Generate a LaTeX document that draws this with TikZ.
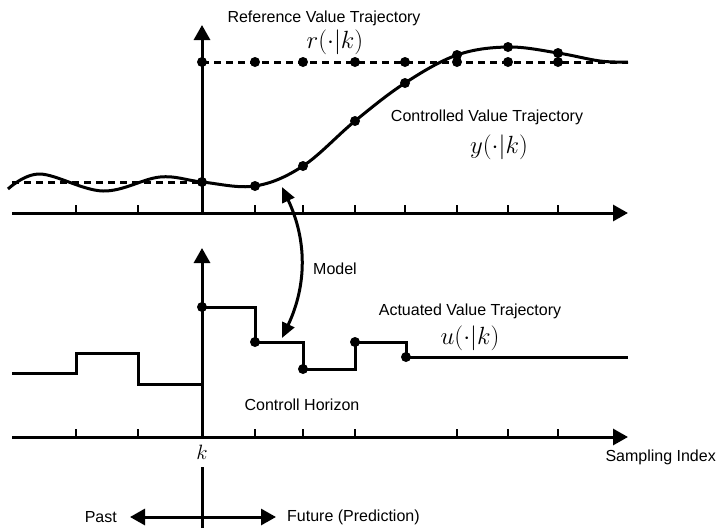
\documentclass[tikz,border=0pt]{standalone}
\usepackage{fontspec}
\setmainfont{Liberation Sans}
\usetikzlibrary{arrows.meta}
\tikzset{
    axis/.style={line width=3pt,-{Triangle[length=15pt,width=16pt]}},
    traj/.style={line width=3pt,line join=miter},
    refline/.style={line width=3pt,dash pattern=on 7pt off 5pt},
    dot/.style={circle,fill,inner sep=0pt,minimum size=10pt},
    lbl/.style={font=\fontsize{16}{19}\selectfont,inner sep=1pt},
    mlbl/.style={font=\fontsize{24}{28}\selectfont,inner sep=1pt}
}
\begin{document}
\begin{tikzpicture}[x=1pt,y=-1pt]
        \useasboundingbox (0,0) rectangle (717,528);
        %% Upper plot: axes
        \draw[axis] (12,213) -- (628,213);
        \draw[axis] (202,213) -- (202,25);
        \foreach \x in {76,138,255,303,355,405,457,508,558}
            \draw[line width=2.6pt] (\x,213) -- (\x,205);
        %% Reference
        \draw[refline] (12,182) -- (202,182);
        \draw[refline] (202,62) -- (628,62);
        \foreach \x in {202,255,303,355,405,457,508,558}
            \node[dot] at (\x,62) {};
        \node[lbl] (reftxt) at (324,18) {Reference Value Trajectory};
        \node[mlbl] (reflbl) at (335,42) {$r(\cdot|k)$};
        %% Controlled value
        \draw[traj] plot[smooth,tension=0.6] coordinates {(8,189) (40,174) (103,191) (160,177) (202,182) (255,186) (303,166) (355,121) (405,83) (457,55) (508,47) (558,53) (600,61) (628,62)};
        \foreach \p in {(202,182),(255,186),(303,166),(355,121),(405,83),(457,55),(508,47),(558,53)}
            \node[dot] at \p {};
        \node[lbl] (ytxt) at (487,117) {Controlled Value Trajectory};
        \node[mlbl] (ylbl) at (499,147) {$y(\cdot|k)$};
        %% Model
        \coordinate (mtop) at (282,187);
        \coordinate (mbot) at (282,338);
        \draw[line width=3pt,{Triangle[length=15pt,width=13pt]}-{Triangle[length=15pt,width=13pt]}] (mtop) .. controls (307,240) and (307,285) .. (mbot);
        \node[lbl] (model) at (335,269) {Model};
        %% Lower plot: axes
        \draw[axis] (12,437) -- (628,437);
        \draw[axis] (202,437) -- (202,248);
        \foreach \x in {76,138,255,303,355,457,508,558}
            \draw[line width=2.6pt] (\x,437) -- (\x,429);
        \node[mlbl,font=\fontsize{22}{26}\selectfont] (k) at (202,452) {$k$};
        \node[lbl,anchor=east] (sidx) at (717,457) {Sampling Index};
        %% Actuated value
        \draw[traj] (12,373) -| (76,353) -| (138,384) -- (202,384) -- (202,307) -| (255,342) -| (303,369) -| (355,342) -| (406,357) -- (628,357);
        \foreach \p in {(202,307),(255,342),(303,369),(355,342),(406,357)}
            \node[dot] at \p {};
        \node[lbl] (utxt) at (470,311) {Actuated Value Trajectory};
        \node[mlbl] (ulbl) at (470,338) {$u(\cdot|k)$};
        \node[lbl] (horizon) at (302,405) {Controll Horizon};
        %% Past / Future
        \draw[line width=3pt] (202,467) -- (202,528);
        \coordinate (pst) at (130,517);
        \coordinate (fut) at (276,517);
        \draw[line width=3pt,{Triangle[length=15pt,width=16pt]}-{Triangle[length=15pt,width=16pt]}] (pst) -- (fut);
        \node[lbl,anchor=east] (past) at (118,517) {Past};
        \node[lbl,anchor=west] (future) at (286,517) {Future (Prediction)};
\end{tikzpicture}
\end{document}
